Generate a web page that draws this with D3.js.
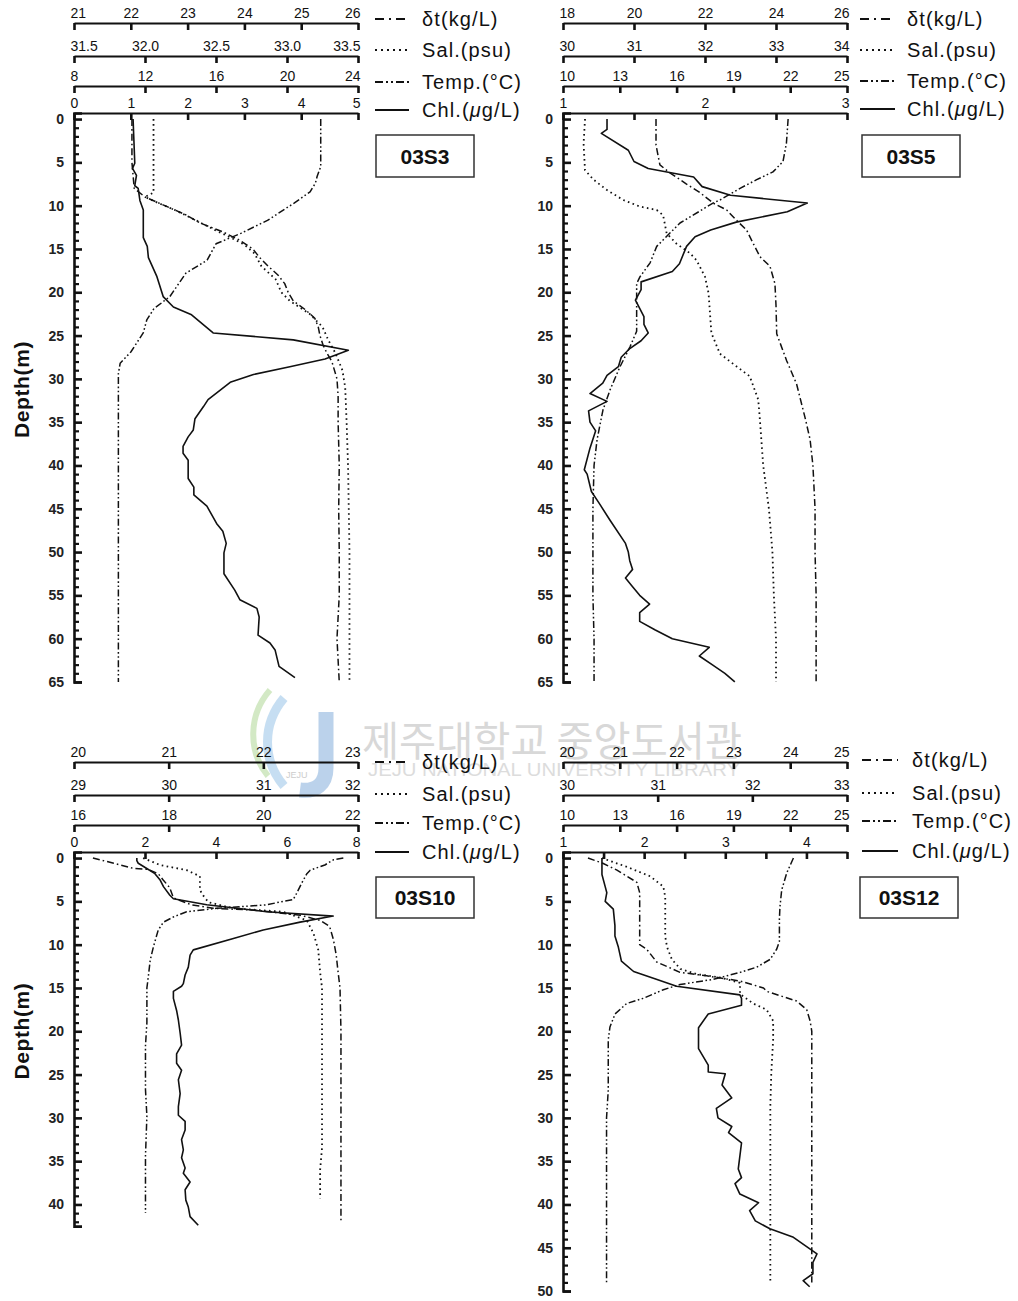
<!DOCTYPE html>
<html>
<head>
<meta charset="utf-8">
<script src="https://cdn.jsdelivr.net/npm/d3@7"></script>
<style>
  body { margin: 0; background: #fff; }
  svg { display: block; font-family: "Liberation Sans", Arial, sans-serif; }
</style>
</head>
<body>
<svg id="chart" width="1018" height="1301"></svg>
<script>
// ---------- Station 03S3 : [depth (m), value] ----------
const s3DensityTicks = [21, 22, 23, 24, 25, 26];
const s3SalTicks = [31.5, 32.0, 32.5, 33.0, 33.5];
const s3TempTicks = [8, 12, 16, 20, 24];
const s3ChlTicks = [0, 1, 2, 3, 4, 5];
const s3Density = [[0,22.02],[5,22.02],[8,22.06],[9,22.25],[10,22.60],[11,22.95],[12,23.22],[13,23.61],[14,23.92],[15,24.15],[16,24.27],[17,24.42],[18,24.59],[19,24.71],[20,24.77],[21,24.86],[22,25.07],[23,25.24],[24,25.30],[25,25.33],[26,25.38],[27,25.45],[28,25.54],[30,25.63],[32,25.65],[35,25.65],[40,25.67],[45,25.66],[50,25.67],[55,25.67],[60,25.63],[65,25.67]];
const s3Sal = [[0,32.06],[8.5,32.06],[9,32.0],[9.6,32.08],[10.5,32.21],[11.7,32.36],[12.8,32.49],[13.5,32.58],[14.5,32.70],[15.5,32.77],[17,32.82],[18.5,32.92],[20,32.96],[21,33.02],[22.5,33.16],[24,33.25],[25.5,33.29],[27,33.34],[29,33.39],[31,33.41],[35,33.42],[40,33.43],[50,33.44],[65,33.44]];
const s3Temp = [[0,21.9],[5.5,21.9],[6.6,21.7],[7.4,21.6],[8.4,21.3],[9.7,20.4],[11.7,18.9],[13.2,17.4],[14.4,16.0],[16.3,15.5],[17.8,14.3],[20.5,13.4],[21.9,12.5],[23.2,12.1],[24.7,11.9],[26.9,11.2],[28.2,10.6],[29.4,10.5],[40,10.5],[50,10.5],[65,10.5]];
const s3Chl = [[0,1.04],[5.1,1.07],[5.7,1.03],[6.5,1.10],[7.7,1.07],[8,1.13],[9.4,1.16],[10.5,1.22],[13.7,1.22],[14.7,1.29],[16,1.31],[18.2,1.46],[20.5,1.57],[21.7,1.75],[22.6,2.07],[24.7,2.45],[25.5,3.86],[26.7,4.83],[27.7,4.42],[28.6,3.80],[29.5,3.16],[30.4,2.75],[32.4,2.36],[33.2,2.28],[34.6,2.13],[35.9,2.10],[36.7,2.01],[37.8,1.92],[38.6,1.92],[39.4,2.01],[41.5,2.01],[42.5,2.11],[43.4,2.11],[44.7,2.34],[46.7,2.51],[47.6,2.62],[49,2.68],[50.1,2.64],[52.5,2.64],[54.4,2.83],[55.5,2.92],[56.5,3.22],[57.5,3.26],[59.6,3.24],[60.5,3.45],[61.3,3.54],[63.2,3.61],[64.5,3.89]];

// ---------- Station 03S5 ----------
const s5DensityTicks = [18, 20, 22, 24, 26];
const s5SalTicks = [30, 31, 32, 33, 34];
const s5TempTicks = [10, 13, 16, 19, 22, 25];
const s5ChlTicks = [1, 1.5, 2, 2.5, 3];
const s5Density = [[0,20.62],[3,20.62],[5.3,20.73],[6.2,21.01],[7.5,21.48],[8.5,21.86],[9.7,22.23],[10.5,22.61],[11.7,22.89],[12.8,23.17],[14.3,23.35],[15.9,23.55],[17,23.83],[19,23.97],[21.5,24.00],[24.8,24.02],[27.9,24.30],[30.6,24.58],[34.5,24.82],[37,24.96],[40,25.04],[45,25.10],[50,25.10],[55,25.13],[60,25.13],[65,25.13]];
const s5Sal = [[0,30.31],[2.8,30.29],[5.9,30.31],[7.0,30.43],[8.2,30.62],[9.35,30.85],[10.1,31.08],[10.5,31.32],[11.1,31.41],[13.2,31.46],[14.4,31.60],[15.5,31.79],[16.3,31.88],[18.2,32.0],[20.1,32.05],[22.4,32.07],[24.7,32.09],[27.1,32.21],[28.6,32.45],[29.7,32.63],[32.4,32.75],[34.4,32.77],[40,32.82],[45,32.90],[50,32.95],[55,32.97],[60,33.0],[65,33.0]];
const s5Temp = [[0,21.89],[2.8,21.80],[4.9,21.62],[6.1,21.09],[7.0,20.23],[8.0,19.35],[9.35,18.29],[9.7,17.92],[11.1,16.87],[12.0,16.18],[14.7,14.95],[16.6,14.60],[18.2,14.07],[19,13.89],[24.5,13.89],[26.3,13.54],[28.6,13.01],[31.3,12.48],[33.6,12.11],[37,11.80],[40,11.64],[45,11.58],[50,11.58],[55,11.58],[60,11.64],[65,11.64]];
const s5Chl = [[0,1.31],[1.2,1.31],[1.65,1.27],[3.6,1.46],[4.9,1.50],[5.7,1.60],[6.7,1.92],[7.8,1.98],[8.8,2.18],[9.7,2.72],[10.7,2.58],[11.9,2.22],[12.8,2.04],[13.6,1.93],[14.7,1.87],[16.7,1.82],[17.6,1.77],[18.8,1.55],[19.7,1.55],[20.9,1.51],[22.8,1.57],[23.7,1.57],[24.7,1.60],[25.6,1.55],[26.5,1.47],[27.5,1.41],[28.6,1.39],[29.6,1.31],[30.5,1.28],[31.7,1.19],[32.6,1.31],[33.7,1.18],[35,1.19],[36,1.23],[38,1.19],[40.5,1.15],[41,1.17],[43,1.20],[44.5,1.26],[46.3,1.33],[49,1.44],[50,1.46],[51,1.47],[52,1.49],[53,1.44],[54,1.49],[55,1.54],[56,1.61],[57,1.54],[58,1.54],[59,1.65],[60,1.77],[61,2.03],[62,1.96],[63,2.05],[64,2.14],[65,2.21]];

// ---------- Station 03S10 ----------
const s10DensityTicks = [20, 21, 22, 23];
const s10SalTicks = [29, 30, 31, 32];
const s10TempTicks = [16, 18, 20, 22];
const s10ChlTicks = [0, 2, 4, 6, 8];
const s10Density = [[0,20.20],[0.6,20.42],[1.2,20.63],[1.3,20.78],[1.8,20.89],[2.5,20.94],[3.4,21.01],[4.6,21.05],[5.4,21.24],[5.8,21.47],[6.0,21.89],[6.6,22.39],[7.2,22.60],[7.9,22.70],[9.4,22.74],[11.2,22.77],[13.2,22.79],[15,22.81],[20,22.82],[30,22.82],[42,22.82]];
const s10Sal = [[0,29.73],[0.8,29.91],[1.4,30.19],[2.1,30.33],[3.7,30.33],[4.4,30.37],[5.1,30.42],[5.8,30.68],[6.2,31.21],[7.2,31.46],[8.7,31.53],[10.6,31.58],[13.2,31.60],[15,31.62],[20.8,31.62],[28.5,31.62],[33.5,31.62],[36,31.60],[39.3,31.60]];
const s10Temp = [[0,21.69],[0.2,21.48],[0.8,21.30],[1.4,20.99],[1.8,20.92],[2.9,20.81],[4.1,20.70],[4.8,20.63],[5.0,20.42],[5.4,20.07],[5.8,19.01],[6.2,18.38],[6.8,18.10],[7.4,17.89],[8.3,17.78],[10.2,17.68],[11.8,17.61],[13.7,17.57],[15,17.54],[19,17.54],[21.7,17.51],[26.7,17.51],[29.8,17.54],[34.4,17.51],[41,17.51]];
const s10Chl = [[0,1.77],[0.3,1.77],[0.6,1.81],[1.2,2.05],[1.8,2.28],[2.5,2.42],[3.3,2.52],[4.3,2.70],[4.7,2.80],[5.4,3.74],[6.2,5.43],[6.7,7.30],[7.4,6.37],[8.3,5.33],[9.3,4.49],[10.6,3.36],[11.2,3.27],[12.6,3.22],[13.5,3.13],[14.5,3.08],[14.8,3.03],[15.4,2.80],[16.2,2.80],[17.6,2.89],[18.7,2.94],[20.2,2.99],[21.6,3.03],[22.6,2.89],[23.7,2.89],[24.5,3.03],[25.6,2.94],[27.2,2.99],[28.7,2.94],[29.7,2.94],[30.4,3.13],[31.4,3.13],[32.5,3.03],[33.7,3.08],[34.6,3.03],[35.8,3.13],[36.4,3.08],[37.4,3.27],[38.3,3.13],[39.5,3.15],[40.3,3.22],[41.4,3.27],[42.4,3.50]];

// ---------- Station 03S12 ----------
const s12DensityTicks = [20, 21, 22, 23, 24, 25];
const s12SalTicks = [30, 31, 32, 33];
const s12TempTicks = [10, 13, 16, 19, 22, 25];
const s12ChlTicks = [1, 1.5, 2, 2.5, 3, 3.5, 4, 4.5];
const s12Density = [[0,20.44],[0.6,20.70],[1.4,20.95],[2.8,21.30],[4,21.35],[10,21.35],[10.5,21.47],[12,21.65],[13.2,22.06],[13.6,22.53],[14.2,23.12],[15,23.53],[15.4,23.59],[16.5,24.11],[17.5,24.29],[18.8,24.35],[20,24.38],[49,24.38]];
const s12Sal = [[0,30.41],[1.0,30.67],[2.1,30.92],[3.3,31.06],[4.5,31.08],[9.1,31.08],[10.3,31.10],[11.7,31.15],[12.8,31.24],[13.4,31.41],[13.8,31.66],[14.4,31.87],[15.7,31.87],[16.8,32.01],[17.5,32.15],[18.8,32.22],[20.9,32.22],[24.8,32.20],[28.6,32.19],[49,32.19]];
const s12Temp = [[0,22.17],[1.7,21.82],[3.7,21.55],[5.6,21.46],[7,21.43],[9.6,21.43],[10.5,21.29],[11.7,20.94],[12.6,20.23],[13.2,19.35],[14,17.94],[14.6,16.18],[15.2,15.30],[16.2,14.24],[16.8,13.36],[18,12.75],[19.5,12.48],[21,12.39],[26.8,12.39],[30,12.30],[49,12.30]];
const s12Chl = [[0,1.48],[1.9,1.48],[3.3,1.52],[4,1.54],[5,1.52],[5.9,1.62],[7.8,1.64],[9,1.64],[10.2,1.68],[11.9,1.72],[13.1,1.87],[14.0,2.15],[14.8,2.40],[15.8,3.18],[16.2,3.20],[17,3.20],[18,2.79],[19.6,2.67],[22,2.67],[23.9,2.79],[24.7,2.79],[24.9,3.0],[26.2,2.96],[27.7,3.08],[28.9,2.89],[30,2.91],[31,3.08],[31.7,3.04],[32.9,3.20],[35.9,3.16],[36.9,3.20],[37.6,3.12],[38.8,3.18],[39.8,3.41],[40.7,3.30],[41.9,3.37],[42.8,3.55],[43.8,3.84],[45.7,4.13],[46.7,4.08],[48,4.08],[48.8,3.96],[49.5,4.04]];

// Legend entries and line styles shared by all four profiles
const legendLabels = ["δt(kg/L)", "Sal.(psu)", "Temp.(°C)", "Chl.(μg/L)"];
const styles = [
  { dash: "7,3,1.6,3",             width: 1.5, legendDash: "9,5,2,5" },
  { dash: "1.6,3.4",               width: 1.8, legendDash: "2,4" },
  { dash: "7,2.5,1.6,2.5,1.6,2.5", width: 1.5, legendDash: "8,3,2,3,2,3" },
  { dash: null,                    width: 1.6, legendDash: null }
];

const PX_PER_M = 8.66;
const svg = d3.select("#chart");
const ink = "#111";

// ---------- library watermark (drawn underneath) ----------
(function watermark() {
  const wm = svg.append("g").attr("opacity", 0.5);
  wm.append("path").attr("d", "M270,690 C248,715 248,752 268,776")
    .attr("fill", "none").attr("stroke", "#a9d58c").attr("stroke-width", 6);
  wm.append("path").attr("d", "M284,698 C262,724 262,760 284,786")
    .attr("fill", "none").attr("stroke", "#8fbfe6").attr("stroke-width", 9);
  wm.append("path").attr("d", "M326,712 L326,768 C326,784 316,792 300,790")
    .attr("fill", "none").attr("stroke", "#7aa7d8").attr("stroke-width", 15);
  wm.append("text").attr("x", 286).attr("y", 778).attr("font-size", 9)
    .attr("fill", "#9a9a9a").text("JEJU");
  svg.append("text").attr("x", 362).attr("y", 756)
    .attr("font-family", "'Noto Sans CJK KR', sans-serif").attr("font-size", 41)
    .attr("fill", "#d8d8d8").attr("textLength", 380).attr("lengthAdjust", "spacingAndGlyphs")
    .text("제주대학교 중앙도서관");
  svg.append("text").attr("x", 368).attr("y", 776).attr("font-size", 18)
    .attr("fill", "#dcdcdc").attr("textLength", 372).attr("lengthAdjust", "spacingAndGlyphs")
    .text("JEJU NATIONAL UNIVERSITY LIBRARY");
})();

const panels = [
  { name: "03S3", left: 74, right: 358, axisY: [23, 56, 86, 113], depthMax: 65, depthLabel: true,
    ticks: [s3DensityTicks, s3SalTicks, s3TempTicks, s3ChlTicks], fmts: ["d", ".1f", "d", "d"],
    data: [s3Density, s3Sal, s3Temp, s3Chl],
    legend: { sx: 375, sw: 34, tx: 422, rows: [19, 50, 82, 110] }, box: [376, 135, 98, 42] },
  { name: "03S5", left: 563, right: 847, axisY: [23, 56, 86, 113], depthMax: 65, depthLabel: false,
    ticks: [s5DensityTicks, s5SalTicks, s5TempTicks, s5ChlTicks], fmts: ["d", "d", "d", "d"],
    data: [s5Density, s5Sal, s5Temp, s5Chl],
    legend: { sx: 860, sw: 35, tx: 907, rows: [19, 50, 81, 109] }, box: [862, 135, 98, 42] },
  { name: "03S10", left: 74, right: 358, axisY: [762, 795, 825, 852], depthMax: 42.5, depthLabel: true,
    ticks: [s10DensityTicks, s10SalTicks, s10TempTicks, s10ChlTicks], fmts: ["d", "d", "d", "d"],
    data: [s10Density, s10Sal, s10Temp, s10Chl],
    legend: { sx: 375, sw: 34, tx: 422, rows: [762, 794, 823, 852] }, box: [376, 877, 98, 41] },
  { name: "03S12", left: 563, right: 847, axisY: [762, 795, 825, 852], depthMax: 50, depthLabel: false,
    ticks: [s12DensityTicks, s12SalTicks, s12TempTicks, s12ChlTicks], fmts: ["d", "d", "d", "d"],
    data: [s12Density, s12Sal, s12Temp, s12Chl],
    legend: { sx: 862, sw: 36, tx: 912, rows: [760, 793, 821, 851] }, box: [860, 877, 98, 41] }
];

function drawPanel(p) {
  const g = svg.append("g");
  const depthTop = -0.7;
  const y0 = p.axisY[3];
  const y = d3.scaleLinear().domain([depthTop, p.depthMax])
    .range([y0, y0 + (p.depthMax - depthTop) * PX_PER_M]);

  // four stacked value axes along the top
  const xs = p.ticks.map((tv, i) => {
    const dom = [tv[0], tv[tv.length - 1]];
    const x = d3.scaleLinear().domain(dom).range([p.left, p.right]);
    const f = d3.format(p.fmts[i]);
    const ax = d3.axisTop(x).tickValues(tv).tickSizeInner(-7).tickSizeOuter(0).tickPadding(5)
      .tickFormat(d => Number.isInteger(d) || p.fmts[i] !== "d" ? f(d) : "");
    const ga = g.append("g").attr("transform", `translate(0,${p.axisY[i]})`).call(ax)
      .attr("font-family", null).attr("font-size", null);
    ga.select(".domain").attr("stroke", ink).attr("stroke-width", 2.2);
    ga.selectAll(".tick line").attr("stroke", ink).attr("stroke-width", 2.6);
    ga.selectAll(".tick text").attr("font-size", 14).attr("fill", ink)
      .attr("text-anchor", d => d === dom[0] ? "start" : d === dom[1] ? "end" : "middle")
      .attr("dx", d => d === dom[0] ? -4 : d === dom[1] ? 2 : 0);
    return x;
  });

  // depth axis (major every 5 m, minor every 1 m)
  const majors = d3.range(0, p.depthMax + 0.01, 5);
  const minors = d3.range(0, p.depthMax + 0.01, 1).filter(d => d % 5 !== 0);
  const gy = g.append("g").attr("transform", `translate(${p.left},0)`)
    .call(d3.axisLeft(y).tickValues(majors).tickSizeInner(-8).tickSizeOuter(-8).tickPadding(10)
      .tickFormat(d3.format("d")))
    .attr("font-family", null).attr("font-size", null);
  gy.select(".domain").attr("stroke", ink).attr("stroke-width", 2.6);
  gy.selectAll(".tick line").attr("stroke", ink).attr("stroke-width", 2.6);
  gy.selectAll(".tick text").attr("font-size", 14).attr("font-weight", "bold").attr("fill", "#222");
  const gm = g.append("g").attr("transform", `translate(${p.left},0)`)
    .call(d3.axisLeft(y).tickValues(minors).tickSizeInner(-5).tickFormat(""));
  gm.select(".domain").remove();
  gm.selectAll(".tick line").attr("stroke", ink).attr("stroke-width", 2.2);

  if (p.depthLabel) {
    const yc = (y.range()[0] + y.range()[1]) / 2 - 8;
    g.append("text").attr("transform", `translate(29,${yc}) rotate(-90)`)
      .attr("text-anchor", "middle").attr("font-size", 21).attr("font-weight", "bold")
      .attr("letter-spacing", 0.6).attr("fill", ink).text("Depth(m)");
  }

  // profiles
  p.data.forEach((series, i) => {
    const line = d3.line().x(d => xs[i](d[1])).y(d => y(d[0]));
    g.append("path").datum(series).attr("d", line)
      .attr("fill", "none").attr("stroke", ink)
      .attr("stroke-width", styles[i].width)
      .attr("stroke-dasharray", styles[i].dash)
      .attr("stroke-linejoin", "round");
  });

  // legend
  const L = p.legend;
  legendLabels.forEach((lab, i) => {
    const cy = L.rows[i];
    g.append("line").attr("x1", L.sx).attr("x2", L.sx + L.sw).attr("y1", cy).attr("y2", cy)
      .attr("stroke", ink).attr("stroke-width", 1.8).attr("stroke-dasharray", styles[i].legendDash);
    const t = g.append("text").attr("x", L.tx).attr("y", cy + 7).attr("font-size", 20)
      .attr("letter-spacing", 1.1).attr("fill", ink);
    if (lab.includes("μ")) {
      const [a, b] = lab.split("μ");
      t.append("tspan").text(a);
      t.append("tspan").attr("font-style", "italic").text("μ");
      t.append("tspan").text(b);
    } else {
      t.text(lab);
    }
  });

  // station box
  const [bx, by, bw, bh] = p.box;
  g.append("rect").attr("x", bx).attr("y", by).attr("width", bw).attr("height", bh)
    .attr("fill", "#fff").attr("stroke", "#333").attr("stroke-width", 1.5);
  g.append("text").attr("x", bx + bw / 2).attr("y", by + bh / 2 + 7.5)
    .attr("text-anchor", "middle").attr("font-size", 21).attr("font-weight", "bold")
    .attr("fill", ink).text(p.name);
}

panels.forEach(drawPanel);
</script>
</body>
</html>
